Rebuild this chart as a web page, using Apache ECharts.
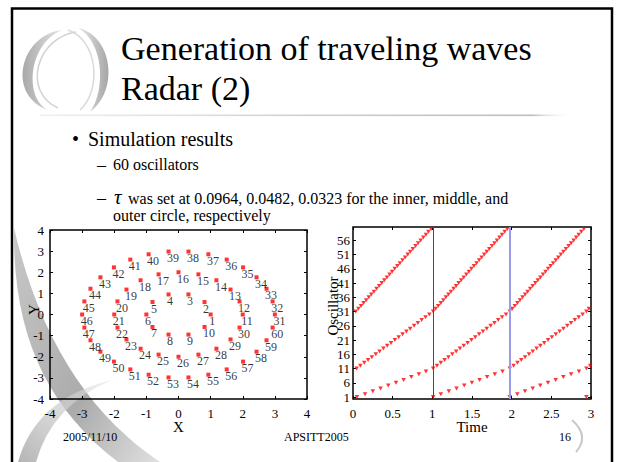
<!DOCTYPE html>
<html><head><meta charset="utf-8">
<script src="https://cdn.jsdelivr.net/npm/echarts@6/dist/echarts.min.js"></script>
<style>
html,body{margin:0;padding:0;background:#fff;}
#wrap{position:relative;width:622px;height:462px;overflow:hidden;}
#deco{position:absolute;left:0;top:0;width:622px;height:462px;}
#c{position:absolute;left:0;top:0;width:622px;height:462px;}
</style>
</head><body>
<div id="wrap">
<svg id="deco" width="622" height="462" xmlns="http://www.w3.org/2000/svg">
  <defs>
    <linearGradient id="gL" x1="0" y1="0" x2="1" y2="0"><stop offset="0" stop-color="#a9a9a9"/><stop offset="1" stop-color="#e6e6e6"/></linearGradient>
    <linearGradient id="gR" x1="0" y1="0" x2="1" y2="0"><stop offset="0" stop-color="#e8e8e8"/><stop offset="1" stop-color="#a5a5a5"/></linearGradient>
    <linearGradient id="gU" x1="0" y1="0" x2="1" y2="0"><stop offset="0" stop-color="#d8d8d8" stop-opacity="0.4"/><stop offset="0.5" stop-color="#cfcfcf"/><stop offset="0.92" stop-color="#bdbdbd"/><stop offset="1" stop-color="#fff" stop-opacity="0"/></linearGradient>
    <linearGradient id="gA" x1="0" y1="0" x2="1" y2="1"><stop offset="0" stop-color="#c8c8c8"/><stop offset="0.6" stop-color="#ababab"/><stop offset="1" stop-color="#e0e0e0"/></linearGradient>
    <linearGradient id="gB" x1="0" y1="1" x2="1" y2="0"><stop offset="0" stop-color="#b5b5b5"/><stop offset="1" stop-color="#e1e1e1" stop-opacity="0.5"/></linearGradient>
  </defs>
  <path d="M 62 30 C 20 35 6 95 48 110 C 24 98 28 44 62 30 Z" fill="url(#gL)"/>
  <path d="M 76 32 C 36 38 22 92 58 108" fill="none" stroke="#d2d2d2" stroke-width="1.5"/>
  <path d="M 78 28 C 112 35 120 90 90 112 C 106 90 104 42 78 28 Z" fill="url(#gR)"/>
  <path d="M 68 30 C 98 40 102 90 80 110" fill="none" stroke="#dadada" stroke-width="1.5"/>
  <rect x="40" y="114.5" width="535" height="1.6" fill="url(#gU)"/>
  <path d="M 14 240 C 15 340 50 410 118 462 L 160 462 C 90 415 40 340 14 228 Z" fill="url(#gA)"/>
  <path d="M 18 462 Q 36 398 112 380 Q 52 405 36 462 Z" fill="url(#gB)"/>
  <path d="M 572 420 Q 590 436 576 452" fill="none" stroke="#c8c8c8" stroke-width="2"/>
  <rect x="12" y="8.5" width="600" height="470" fill="none" stroke="#000" stroke-width="2.5"/>
</svg>
<div id="c"></div>
</div>
<script>
// ---------- data: left plot (oscillator positions) ----------
const oscIds = [1,2,3,4,5,6,7,8,9,10,11,12,13,14,15,16,17,18,19,20,21,22,23,24,25,26,27,28,29,30,
  31,32,33,34,35,36,37,38,39,40,41,42,43,44,45,46,47,48,49,50,51,52,53,54,55,56,57,58,59,60];
const posX = [1.00,0.81,0.31,-0.31,-0.81,-1.00,-0.81,-0.31,0.31,0.81,
  2.00,1.90,1.62,1.18,0.62,0.00,-0.62,-1.18,-1.62,-1.90,-2.00,-1.90,-1.62,-1.18,-0.62,0.00,0.62,1.18,1.62,1.90,
  3.00,2.93,2.74,2.43,2.01,1.50,0.93,0.31,-0.31,-0.93,-1.50,-2.01,-2.43,-2.74,-2.93,-3.00,-2.93,-2.74,-2.43,-2.01,-1.50,-0.93,-0.31,0.31,0.93,1.50,2.01,2.43,2.74,2.93];
const posY = [0.00,0.59,0.95,0.95,0.59,0.00,-0.59,-0.95,-0.95,-0.59,
  0.00,0.62,1.18,1.62,1.90,2.00,1.90,1.62,1.18,0.62,0.00,-0.62,-1.18,-1.62,-1.90,-2.00,-1.90,-1.62,-1.18,-0.62,
  0.00,0.62,1.22,1.76,2.23,2.60,2.85,2.98,2.98,2.85,2.60,2.23,1.76,1.22,0.62,0.00,-0.62,-1.22,-1.76,-2.23,-2.60,-2.85,-2.98,-2.98,-2.85,-2.60,-2.23,-1.76,-1.22,-0.62];
const posTicks = [-4,-3,-2,-1,0,1,2,3,4];

// ---------- data: right plot (firing times) ----------
const innerIds = [1,2,3,4,5,6,7,8,9,10];
const middleIds = [11,12,13,14,15,16,17,18,19,20,21,22,23,24,25,26,27,28,29,30];
const outerIds = [31,32,33,34,35,36,37,38,39,40,41,42,43,44,45,46,47,48,49,50,51,52,53,54,55,56,57,58,59,60];
const innerTimes = [
  [0.050,0.152,0.250,0.347,0.445,0.542,0.638,0.735,0.830,0.920],
  [1.010,1.107,1.208,1.305,1.402,1.499,1.595,1.691,1.788,1.885],
  [1.976,2.071,2.168,2.265,2.361,2.458,2.555,2.651,2.749,2.848],
  [2.942]
];
const middleTimes = [
  [0.045,0.093,0.142,0.190,0.238,0.287,0.335,0.383,0.431,0.480,0.528,0.576,0.625,0.673,0.721,0.770,0.818,0.866,0.914,0.962],
  [1.010,1.058,1.107,1.155,1.203,1.252,1.300,1.348,1.396,1.445,1.493,1.541,1.590,1.638,1.686,1.735,1.783,1.831,1.879,1.928],
  [1.976,2.024,2.073,2.121,2.169,2.218,2.266,2.314,2.362,2.411,2.459,2.507,2.556,2.604,2.652,2.701,2.749,2.797,2.845,2.894],
  [2.942,2.990]
];
const outerTimes = [
  [0.035,0.068,0.101,0.133,0.166,0.199,0.231,0.264,0.297,0.330,0.362,0.395,0.428,0.461,0.493,0.526,0.559,0.591,0.624,0.657,0.690,0.722,0.755,0.788,0.821,0.853,0.886,0.919,0.951,0.984],
  [1.010,1.042,1.074,1.107,1.139,1.171,1.203,1.235,1.268,1.300,1.332,1.364,1.396,1.429,1.461,1.493,1.525,1.557,1.590,1.622,1.654,1.686,1.718,1.751,1.783,1.815,1.847,1.879,1.912,1.944],
  [1.976,2.008,2.040,2.073,2.105,2.137,2.169,2.201,2.234,2.266,2.298,2.330,2.362,2.395,2.427,2.459,2.491,2.523,2.556,2.588,2.620,2.652,2.684,2.717,2.749,2.781,2.813,2.845,2.878,2.910],
  [2.942,2.974]
];
const waveStarts = [1.010, 1.976];
const oscTicks = [1,6,11,16,21,26,31,36,41,46,51,56];
const timeTicks = [0,0.5,1,1.5,2,2.5,3];

// ---------- build ----------
const FONT = "'Liberation Serif','Times New Roman',serif";
function ringData(times, ids){
  const out = [];
  times.forEach(period => period.forEach((t,k) => out.push([t, ids[k]])));
  return out;
}
const scatterData = oscIds.map((n,i) => [posX[i], posY[i], n]);

const chart = echarts.init(document.getElementById('c'), null, {renderer:'svg', width:622, height:462});

const tickStyle = {show:true, inside:true, length:3, lineStyle:{color:'#000', width:1}};
const noLine = {show:false, onZero:false};
const lab = {color:'#000', fontSize:13, fontFamily:FONT, lineHeight:12};
const nameStyle = {color:'#000', fontSize:15, fontFamily:FONT, lineHeight:14};

const triSeries = (data, withLines) => {
  const s = {
    type:'scatter', xAxisIndex:2, yAxisIndex:2, data,
    symbol:'triangle', symbolRotate:180, symbolSize:[4.5,4],
    itemStyle:{color:'#ff0000'}, silent:true, z:3
  };
  if (withLines) {
    s.markLine = {
      silent:true, symbol:['none','none'], label:{show:false},
      data: waveStarts.map((t,i) => ({xAxis:t, lineStyle: i === 0 ? {color:'#3c3cd2', width:1, type:'solid'} : {color:'#9a9aec', width:2, type:'solid'}}))
    };
  }
  return s;
};

const txt = (x, y, text, size, style) => ({type:'text', z:5, x, y,
  style:{text, font:(style ? style + ' ' : '') + size + "px 'Liberation Serif', 'Times New Roman', serif", fill:'#000', align:'left', verticalAlign:'middle'}});

const option = {
  animation:false,
  backgroundColor:'transparent',
  textStyle:{fontFamily:FONT},
  grid:[
    {left:50, top:230, width:257, height:169, show:true, borderColor:'#000', borderWidth:1.5, backgroundColor:'transparent'},
    {left:353, top:227, width:238, height:172, show:true, borderColor:'#000', borderWidth:1.5, backgroundColor:'transparent'}
  ],
  xAxis:[
    {gridIndex:0, type:'value', min:-4, max:4, interval:1, position:'bottom',
     axisLine:noLine, axisTick:tickStyle, splitLine:{show:false},
     axisLabel:Object.assign({margin:8}, lab),
     name:'X', nameLocation:'middle', nameGap:21, nameMoveOverlap:false, nameTextStyle:nameStyle},
    {gridIndex:0, type:'value', min:-4, max:4, interval:1, position:'top',
     axisLine:noLine, axisTick:tickStyle, splitLine:{show:false}, axisLabel:{show:false}},
    {gridIndex:1, type:'value', min:0, max:3, interval:0.5, position:'bottom',
     axisLine:noLine, axisTick:tickStyle, splitLine:{show:false},
     axisLabel:Object.assign({margin:8}, lab),
     name:'Time', nameLocation:'middle', nameGap:21, nameMoveOverlap:false, nameTextStyle:nameStyle},
    {gridIndex:1, type:'value', min:0, max:3, interval:0.5, position:'top',
     axisLine:noLine, axisTick:tickStyle, splitLine:{show:false}, axisLabel:{show:false}}
  ],
  yAxis:[
    {gridIndex:0, type:'value', min:-4, max:4, interval:1, position:'left',
     axisLine:noLine, axisTick:tickStyle, splitLine:{show:false},
     axisLabel:Object.assign({margin:6}, lab),
     name:'Y', nameLocation:'middle', nameRotate:90, nameGap:9, nameMoveOverlap:false,
     nameTextStyle:Object.assign({padding:[0,0,0,10]}, nameStyle)},
    {gridIndex:0, type:'value', min:-4, max:4, interval:1, position:'right',
     axisLine:noLine, axisTick:tickStyle, splitLine:{show:false}, axisLabel:{show:false}},
    {gridIndex:1, type:'value', min:0.3, max:60.7, position:'left',
     axisLine:noLine, axisTick:Object.assign({customValues:oscTicks}, tickStyle), splitLine:{show:false},
     axisLabel:Object.assign({margin:3, customValues:oscTicks}, lab),
     name:'Oscillator', nameLocation:'middle', nameRotate:90, nameGap:13, nameMoveOverlap:false,
     nameTextStyle:Object.assign({padding:[0,0,0,14]}, nameStyle)},
    {gridIndex:1, type:'value', min:0.3, max:60.7, position:'right',
     axisLine:noLine, axisTick:Object.assign({customValues:oscTicks}, tickStyle), splitLine:{show:false}, axisLabel:{show:false}}
  ],
  series:[
    {type:'scatter', xAxisIndex:0, yAxisIndex:0, data:scatterData,
     symbol:'rect', symbolSize:4, itemStyle:{color:'#ff0000'}, silent:true, z:3,
     label:{show:true, position:[0.5,8.5], align:'left', verticalAlign:'middle', lineHeight:10,
            formatter:p => String(p.value[2]), color:'#000', fontSize:12, fontFamily:FONT}},
    triSeries(ringData(innerTimes, innerIds), true),
    triSeries(ringData(middleTimes, middleIds), false),
    triSeries(ringData(outerTimes, outerIds), false)
  ],
  graphic:[
    txt(121, 48, 'Generation of traveling waves', 34),
    txt(121, 88, 'Radar (2)', 34),
    txt(72, 138.5, '•', 20),
    txt(88, 138.5, 'Simulation results', 20),
    txt(97, 164.5, '–', 18),
    txt(113, 164.5, '60 oscillators', 16),
    txt(97, 198, '–', 18),
    txt(114, 197, 'τ', 21, 'italic'),
    txt(128, 198, 'was set at 0.0964, 0.0482, 0.0323 for the inner, middle, and', 16),
    txt(113, 215.5, 'outer circle, respectively', 16),
    txt(63, 437, '2005/11/10', 12),
    txt(284, 437, 'APSITT2005', 12),
    txt(559, 437, '16', 12)
  ]
};
chart.setOption(option);
</script>
</body></html>
